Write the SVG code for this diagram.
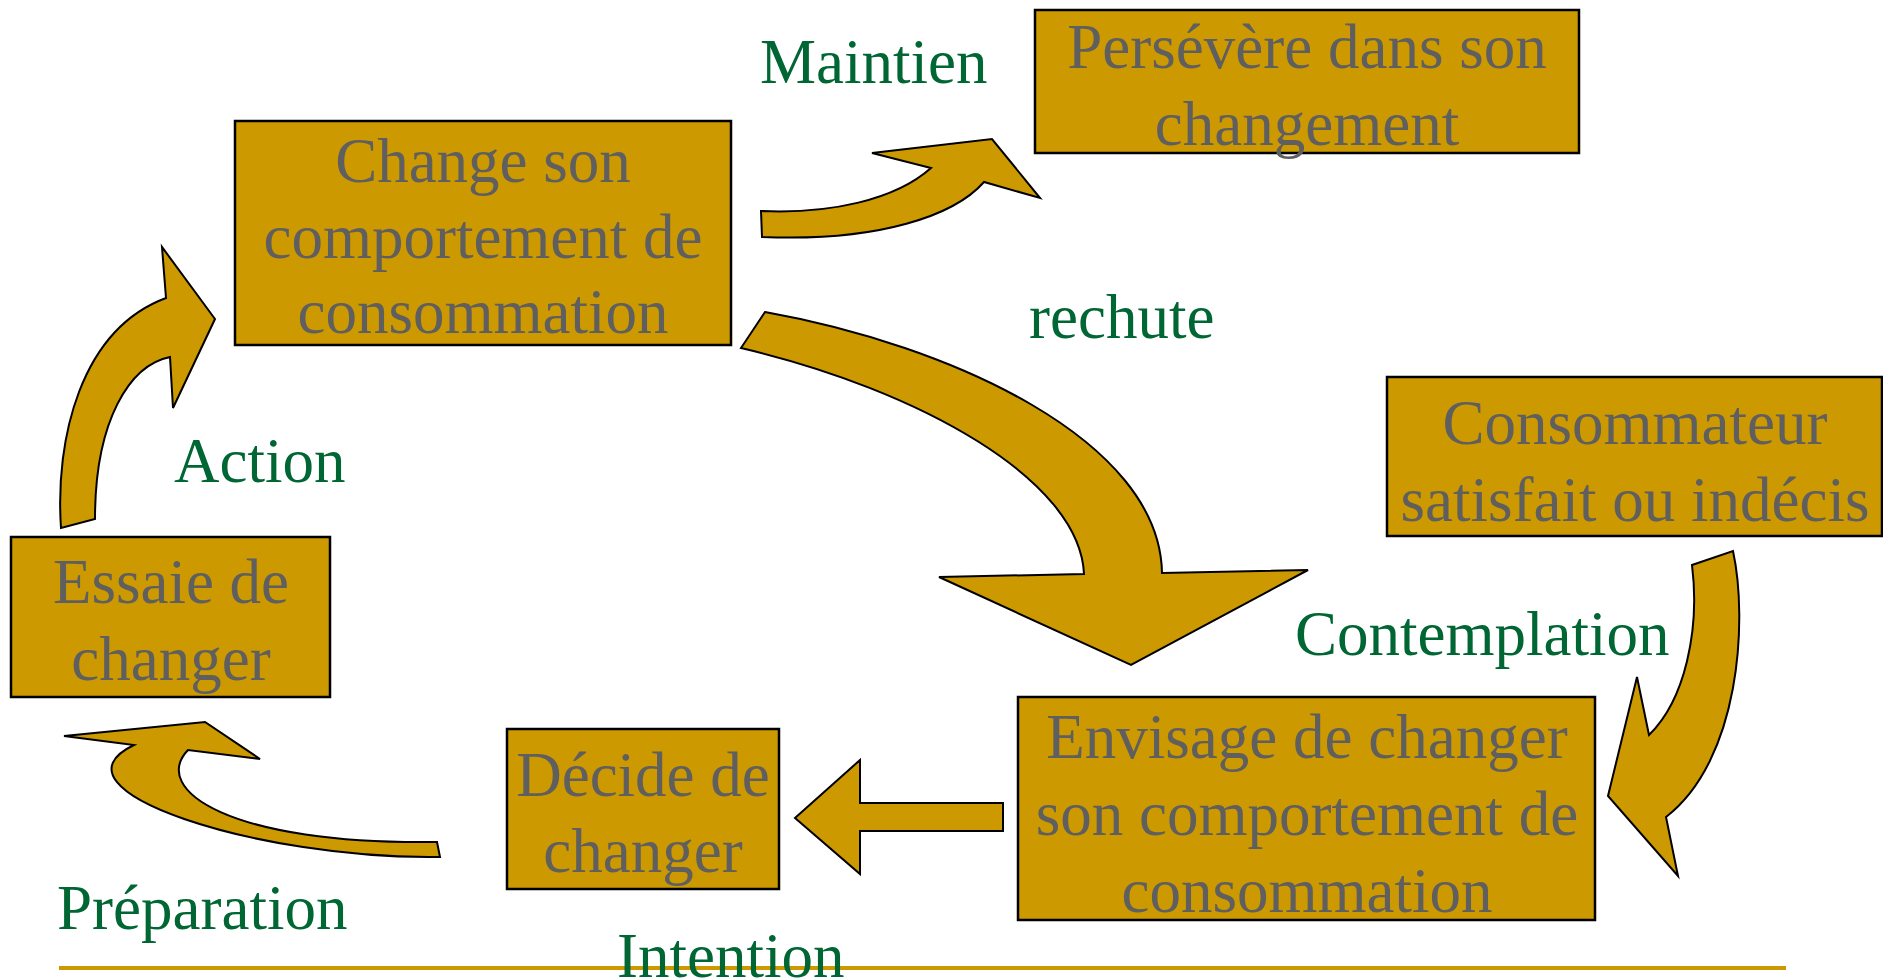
<svg xmlns="http://www.w3.org/2000/svg" width="1883" height="980" viewBox="0 0 1883 980">
<style>
.box{fill:#cc9900;stroke:#000;stroke-width:2.5}
.bt{font-family:"Liberation Serif","Times New Roman",serif;font-size:63px;fill:#5f5f5f;text-anchor:middle}
.lbl{font-family:"Liberation Serif","Times New Roman",serif;font-size:63px;fill:#006633}
.arr{fill:#cc9900;stroke:#000;stroke-width:2;stroke-linejoin:miter}
</style>
<rect width="1883" height="980" fill="#fff"/>
<line x1="59" y1="968" x2="1786" y2="968" stroke="#cc9900" stroke-width="4"/>
<g id="connectors">
<path class="arr" d="M 61,528 C 55,440 80,330 166,298 L 162,247 L 215,319 L 173,408 L 170,357 C 130,365 95,420 95,519 Z"/>
<path class="arr" d="M 761,211 C 830,214 895,200 931,168 L 872,153 L 992,139 L 1040,198 L 984,182 C 955,215 880,242 762,237 Z"/>
<path class="arr" d="M 765,312 C 950,345 1160,440 1162,573 L 1308,570 L 1131,665 L 939,577 L 1084,574 C 1080,480 920,390 741,348 Z"/>
<path class="arr" d="M 1733,551 C 1748,620 1740,760 1666,817 L 1678,876 L 1608,796 L 1637,677 L 1649,735 C 1685,700 1700,630 1692,565 Z"/>
<path class="arr" d="M 1003,803 L 860,803 L 860,760 L 795,818 L 860,874 L 860,831 L 1003,831 Z"/>
<path class="arr" d="M 440,857 C 260,860 40,790 134,745 L 64,736 L 205,722 L 260,759 L 188,750 C 150,790 230,845 437,842 Z"/>
</g>
<g id="node-persevere">
<rect class="box" x="1035" y="10" width="544" height="143"/>
<text class="bt" x="1307" y="68">Persévère dans son</text>
<text class="bt" x="1307" y="145">changement</text>
</g>
<g id="node-change">
<rect class="box" x="235" y="121" width="496" height="224"/>
<text class="bt" x="483" y="182">Change son</text>
<text class="bt" x="483" y="258">comportement de</text>
<text class="bt" x="483" y="333">consommation</text>
</g>
<g id="node-consommateur">
<rect class="box" x="1387" y="377" width="495" height="159"/>
<text class="bt" x="1635" y="444">Consommateur</text>
<text class="bt" x="1635" y="521">satisfait ou indécis</text>
</g>
<g id="node-envisage">
<rect class="box" x="1018" y="697" width="577" height="223"/>
<text class="bt" x="1307" y="758">Envisage de changer</text>
<text class="bt" x="1307" y="835">son comportement de</text>
<text class="bt" x="1307" y="912">consommation</text>
</g>
<g id="node-decide">
<rect class="box" x="507" y="729" width="272" height="160"/>
<text class="bt" x="643" y="796">Décide de</text>
<text class="bt" x="643" y="872">changer</text>
</g>
<g id="node-essaie">
<rect class="box" x="11" y="537" width="319" height="160"/>
<text class="bt" x="171" y="603">Essaie de</text>
<text class="bt" x="171" y="680">changer</text>
</g>
<g id="labels">
<text class="lbl" x="760" y="83">Maintien</text>
<text class="lbl" x="1029" y="338">rechute</text>
<text class="lbl" x="174" y="482">Action</text>
<text class="lbl" x="1295" y="655">Contemplation</text>
<text class="lbl" x="57" y="929">Préparation</text>
<text class="lbl" x="617" y="977">Intention</text>
</g>
</svg>
